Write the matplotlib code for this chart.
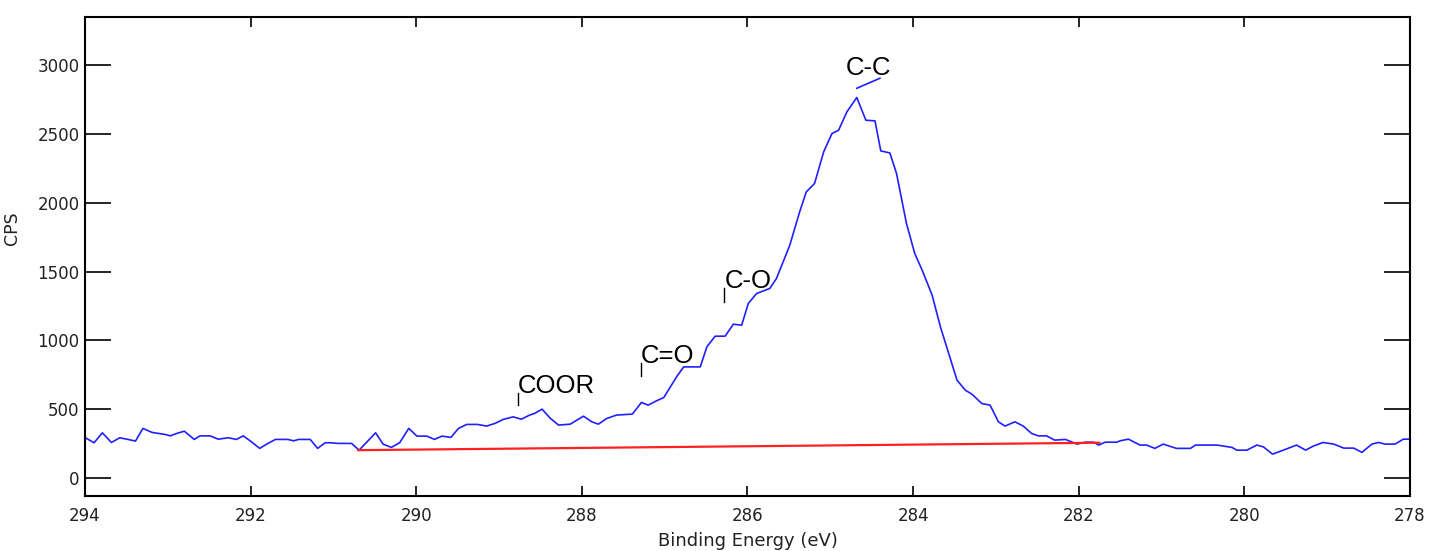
import matplotlib
matplotlib.use('Agg')
import matplotlib.pyplot as plt
import numpy as np

# C 1s spectrum (binding energy in eV, counts per second)
be = [294.00, 293.89, 293.79, 293.68, 293.58, 293.48, 293.39, 293.30, 293.19, 293.03,
      292.97, 292.89, 292.80, 292.68, 292.61, 292.49, 292.39, 292.27, 292.17, 292.09,
      291.99, 291.89, 291.79, 291.70, 291.55, 291.48, 291.42, 291.28, 291.19, 291.10,
      291.04, 290.94, 290.78, 290.69, 290.49, 290.40, 290.30, 290.20, 290.09, 289.99,
      289.87, 289.78, 289.69, 289.58, 289.49, 289.39, 289.26, 289.15, 289.05, 288.95,
      288.83, 288.73, 288.63, 288.57, 288.48, 288.38, 288.28, 288.14, 288.06, 287.98,
      287.88, 287.80, 287.70, 287.58, 287.39, 287.28, 287.20, 287.10, 287.01, 286.93,
      286.85, 286.77, 286.57, 286.49, 286.39, 286.27, 286.17, 286.07, 285.99, 285.89,
      285.73, 285.65, 285.57, 285.49, 285.37, 285.29, 285.19, 285.08, 284.98, 284.90,
      284.80, 284.68, 284.57, 284.46, 284.39, 284.28, 284.20, 284.08, 283.98, 283.89,
      283.77, 283.67, 283.47, 283.37, 283.29, 283.17, 283.07, 282.97, 282.89, 282.77,
      282.67, 282.57, 282.49, 282.39, 282.29, 282.16, 282.02, 281.92, 281.82, 281.76,
      281.68, 281.54, 281.50, 281.40, 281.26, 281.18, 281.08, 280.98, 280.82, 280.65,
      280.59, 280.33, 280.15, 280.09, 279.97, 279.85, 279.77, 279.66, 279.53, 279.37,
      279.26, 279.17, 279.05, 278.92, 278.80, 278.68, 278.58, 278.46, 278.38, 278.30,
      278.18, 278.08, 278.00]
cps = [295, 257, 329, 259, 293, 281, 269, 361, 332, 317,
       307, 325, 341, 281, 307, 307, 283, 293, 281, 307,
       264, 216, 252, 281, 281, 271, 281, 281, 216, 257,
       257, 252, 252, 203, 329, 247, 223, 257, 361, 305,
       305, 281, 305, 296, 361, 390, 390, 378, 397, 426,
       445, 428, 458, 470, 501, 434, 385, 392, 421, 450,
       409, 392, 433, 458, 465, 550, 530, 561, 586, 663,
       741, 808, 808, 954, 1031, 1031, 1118, 1111, 1269, 1341,
       1378, 1450, 1571, 1690, 1934, 2079, 2140, 2370, 2503, 2527,
       2660, 2765, 2600, 2595, 2377, 2362, 2213, 1850, 1632, 1510,
       1329, 1099, 712, 639, 610, 542, 530, 409, 378, 409,
       378, 325, 307, 307, 276, 281, 247, 261, 261, 240,
       261, 261, 271, 283, 240, 240, 216, 247, 216, 216,
       240, 240, 223, 203, 203, 240, 227, 174, 203, 240,
       203, 232, 259, 247, 218, 218, 187, 247, 259, 247,
       247, 283, 283]

# linear background
bg_be = [290.70, 281.75]
bg_cps = [203, 257]

# peak labels: name, tick x, tick y bottom, tick y top
peak_names = ['COOR', 'C=O', 'C-O']
peak_x = [288.77, 287.29, 286.28]
peak_lo = [530, 741, 1278]
peak_hi = [617, 835, 1380]

fig = plt.figure(figsize=(14.3, 5.51), dpi=100)
ax = fig.add_axes([0.0594, 0.0998, 0.9266, 0.8694])

ax.plot(be, cps, color='#2020ff', lw=1.2)
ax.plot(bg_be, bg_cps, color='#ff2020', lw=1.6)

for name, x, lo, hi in zip(peak_names, peak_x, peak_lo, peak_hi):
    ax.plot([x, x], [lo, hi], color='black', lw=1)
    ax.text(x, hi - 35, name, fontsize=18.5, family='Liberation Sans',
            ha='left', va='bottom')

# main peak label with slanted leader
ax.plot([284.68, 284.40], [2832, 2905], color='#2020ff', lw=1.2)
ax.text(284.54, 2977, 'C-C', fontsize=18.5, family='Liberation Sans',
        ha='center', va='center')

ax.set_xlim(294, 278)
ax.set_ylim(-130, 3350)
ax.set_xticks(np.arange(294, 277, -2))
ax.set_yticks(np.arange(0, 3001, 500))

ax.tick_params(axis='y', direction='in', length=19, width=1.2, left=True, right=True,
               labelsize=12, pad=4, labelcolor='#222222')
ax.tick_params(axis='x', direction='in', length=7, width=1.2, bottom=True, top=True,
               labelsize=12, pad=8, labelcolor='#222222')
for s in ax.spines.values():
    s.set_linewidth(1.5)

ax.set_xlabel('Binding Energy (eV)', fontsize=13, color='#222222')
ax.xaxis.set_label_coords(0.5, -0.075)
ax.set_ylabel('CPS', fontsize=12.5, color='#222222')
ax.yaxis.set_label_coords(-0.048, 0.56)

fig.savefig('out.png', dpi=100)
